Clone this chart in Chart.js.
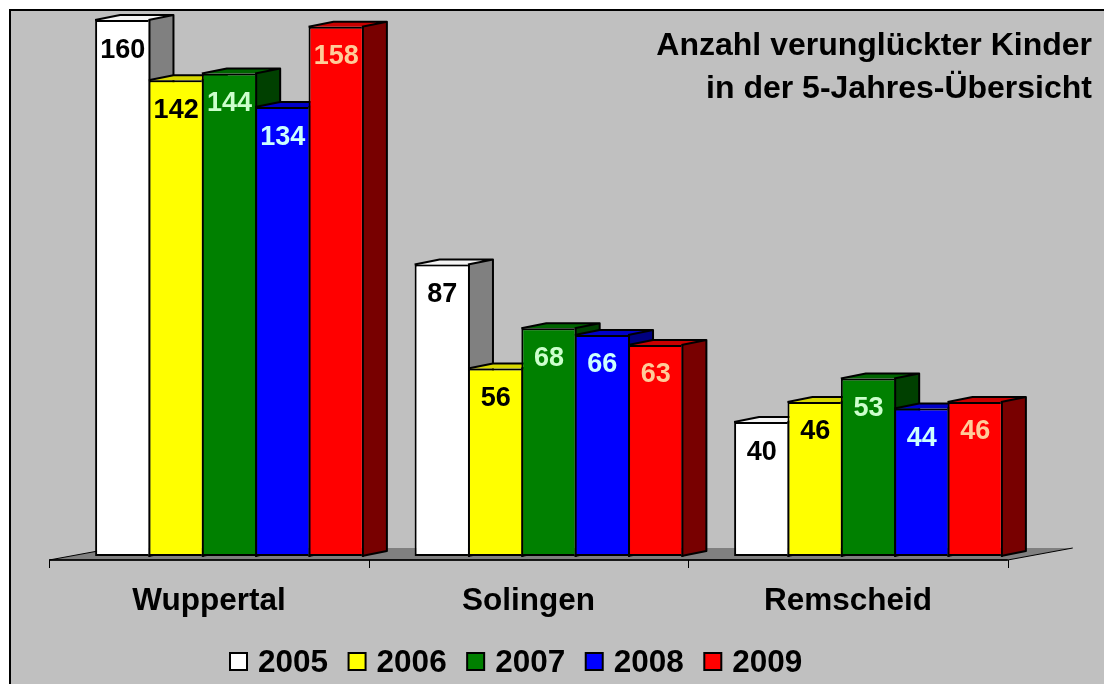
<!DOCTYPE html>
<html><head><meta charset="utf-8">
<script src="https://cdn.jsdelivr.net/npm/chart.js@4"></script>
<style>html,body{margin:0;padding:0;background:#fff;overflow:hidden}canvas{display:block}</style>
</head><body>
<canvas id="c" width="1104" height="684" style="width:1104px;height:684px"></canvas>
<script>
// ---- data ----
const categories = ['Wuppertal', 'Solingen', 'Remscheid'];
const years = ['2005', '2006', '2007', '2008', '2009'];
const values2005 = [160, 87, 40];
const values2006 = [142, 56, 46];
const values2007 = [144, 68, 53];
const values2008 = [134, 66, 44];
const values2009 = [158, 63, 46];
const titleLines = ['Anzahl verunglückter Kinder', 'in der 5-Jahres-Übersicht'];
const valueMax = 160;

// ---- styles ----
const FONT = "'Liberation Sans', Arial, sans-serif";
const frontColors = ['#FFFFFF', '#FFFF00', '#008000', '#0000FF', '#FF0000'];
const topColors   = ['#F4F4F4', '#D8D800', '#006400', '#0000C8', '#C80000'];
const sideColors  = ['#808080', '#808000', '#004000', '#000080', '#780000'];
const labelColors = ['#000000', '#000000', '#CCFFCC', '#CCFFFF', '#FFCC99'];
const DEPTH = { dx: 25, dy: 5 };
const FLOOR = { shiftX: -19.5, shiftY: 4, dx: 65, dy: 12 };

const seriesValues = [values2005, values2006, values2007, values2008, values2009];

Chart.defaults.font.family = FONT;

const decor = {
  id: 'decor',
  beforeDraw(chart) {
    const ctx = chart.ctx, W = chart.width, H = chart.height;
    ctx.save();
    ctx.fillStyle = '#FFFFFF'; ctx.fillRect(0, 0, W, H);
    ctx.fillStyle = '#000000'; ctx.fillRect(9, 9, W - 9, H - 9);
    ctx.fillStyle = '#C0C0C0'; ctx.fillRect(11, 11, W - 11, H - 11);
    // floor
    const xs = chart.scales.x, ys = chart.scales.y;
    const base = ys.getPixelForValue(0);
    const fl = xs.left + FLOOR.shiftX, fr = xs.right + FLOOR.shiftX, fy = base + FLOOR.shiftY;
    ctx.fillStyle = '#808080';
    ctx.beginPath();
    ctx.moveTo(fl, fy); ctx.lineTo(fr, fy);
    ctx.lineTo(fr + FLOOR.dx, fy - FLOOR.dy); ctx.lineTo(fl + FLOOR.dx, fy - FLOOR.dy);
    ctx.closePath(); ctx.fill();
    ctx.strokeStyle = '#000'; ctx.lineWidth = 1;
    ctx.beginPath();
    ctx.moveTo(fl + FLOOR.dx, fy - FLOOR.dy); ctx.lineTo(fl, fy);
    ctx.lineTo(fr, fy); ctx.lineTo(fr + FLOOR.dx, fy - FLOOR.dy);
    ctx.stroke();
    ctx.lineWidth = 1.5;
    ctx.beginPath(); ctx.moveTo(fl, fy); ctx.lineTo(fr, fy); ctx.stroke();
    ctx.lineWidth = 1;
    const n = chart.data.labels.length, step = (xs.right - xs.left) / n;
    ctx.beginPath();
    for (let k = 0; k <= n; k++) {
      const x = Math.round(xs.left + k * step + FLOOR.shiftX) + 0.5;
      ctx.moveTo(x, fy); ctx.lineTo(x, fy + 8);
    }
    ctx.stroke();
    ctx.restore();
  },
  beforeDatasetsDraw(chart) {
    const ctx = chart.ctx;
    const n = chart.data.labels.length;
    ctx.save();
    ctx.strokeStyle = '#000'; ctx.lineJoin = 'round';
    for (let j = 0; j < n; j++) {
      for (let i = 0; i < chart.data.datasets.length; i++) {
        const bar = chart.getDatasetMeta(i).data[j];
        const p = bar.getProps(['x', 'y', 'base', 'width'], true);
        const x0 = p.x - p.width / 2, x1 = p.x + p.width / 2, yt = p.y, yb = p.base;
        const dx = DEPTH.dx, dy = DEPTH.dy;
        ctx.fillStyle = sideColors[i];
        ctx.beginPath();
        ctx.moveTo(x1, yt); ctx.lineTo(x1 + dx, yt - dy); ctx.lineTo(x1 + dx, yb - dy); ctx.lineTo(x1, yb);
        ctx.closePath(); ctx.fill();
        ctx.fillStyle = topColors[i];
        ctx.beginPath();
        ctx.moveTo(x0, yt); ctx.lineTo(x0 + dx, yt - dy); ctx.lineTo(x1 + dx, yt - dy); ctx.lineTo(x1, yt);
        ctx.closePath(); ctx.fill();
        ctx.lineWidth = 2;
        ctx.beginPath();
        ctx.moveTo(x0, yt); ctx.lineTo(x0 + dx, yt - dy); ctx.lineTo(x1 + dx, yt - dy);
        ctx.lineTo(x1 + dx, yb - dy); ctx.lineTo(x1, yb);
        ctx.moveTo(x1, yt); ctx.lineTo(x1 + dx, yt - dy);
        ctx.stroke();
        ctx.beginPath();
        ctx.moveTo(x1 + 1, yt); ctx.lineTo(x1 + 1, yb + 1);
        ctx.stroke();
      }
    }
    ctx.restore();
  },
  afterDraw(chart) {
    const ctx = chart.ctx;
    ctx.save();
    ctx.font = 'bold 27px ' + FONT;
    ctx.textAlign = 'center'; ctx.textBaseline = 'alphabetic';
    chart.data.datasets.forEach((ds, i) => {
      chart.getDatasetMeta(i).data.forEach((bar, j) => {
        const p = bar.getProps(['x', 'y'], true);
        ctx.fillStyle = labelColors[i];
        ctx.fillText(String(ds.data[j]), p.x + 1, p.y + 37.5);
      });
    });
    ctx.font = 'bold 32px ' + FONT;
    ctx.textAlign = 'right'; ctx.fillStyle = '#000';
    ctx.fillText(titleLines[0], 1092, 55);
    ctx.fillText(titleLines[1], 1092, 98);
    ctx.font = 'bold 31.5px ' + FONT;
    ctx.textAlign = 'left';
    let x = 229;
    const box = 19, by = 652, base = 671.5;
    chart.data.datasets.forEach((ds, i) => {
      ctx.fillStyle = '#000'; ctx.fillRect(x, by, box, box);
      ctx.fillStyle = frontColors[i]; ctx.fillRect(x + 2, by + 2, box - 4, box - 4);
      ctx.fillStyle = '#000';
      const tx = x + box + 10;
      ctx.fillText(ds.label, tx, base);
      x = tx + ctx.measureText(ds.label).width + 19.5;
    });
    ctx.restore();
  }
};

new Chart(document.getElementById('c'), {
  type: 'bar',
  data: {
    labels: categories,
    datasets: years.map((y, i) => ({
      label: y,
      data: seriesValues[i],
      backgroundColor: frontColors[i],
      borderColor: '#000000',
      borderWidth: { top: 2, left: 2, bottom: 2, right: 0 },
      borderSkipped: false,
      categoryPercentage: 0.835,
      barPercentage: 1.0
    }))
  },
  options: {
    responsive: false,
    animation: false,
    devicePixelRatio: 1,
    layout: { padding: { left: 68.75, right: 76.75, top: 20, bottom: 45.8 } },
    plugins: { legend: { display: false }, tooltip: { enabled: false }, title: { display: false } },
    scales: {
      x: {
        grid: { display: false },
        border: { display: false },
        ticks: {
          color: '#000', padding: 18.2, labelOffset: FLOOR.shiftX,
          autoSkip: false, maxRotation: 0,
          font: { size: 31.5, weight: 'bold', lineHeight: 1.2 }
        }
      },
      y: { display: false, min: 0, max: valueMax }
    }
  },
  plugins: [decor]
});
</script>
</body></html>
